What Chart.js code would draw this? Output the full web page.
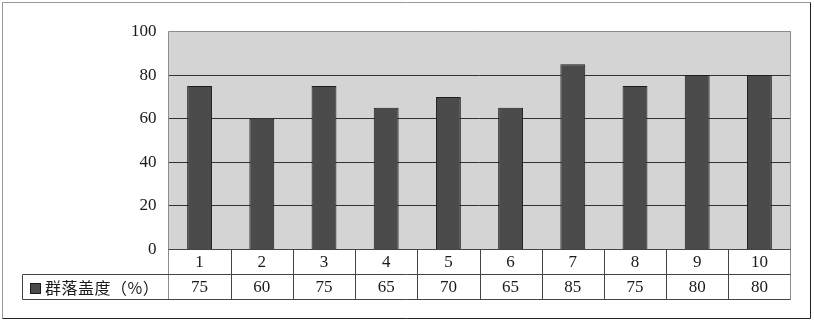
<!DOCTYPE html>
<html>
<head>
<meta charset="utf-8">
<script src="https://cdn.jsdelivr.net/npm/chart.js@4/dist/chart.umd.min.js"></script>
<style>
  html, body { margin: 0; padding: 0; background: #fff; }
  #wrap { width: 814px; height: 323px; }
</style>
</head>
<body>
<div id="wrap"><canvas id="chart" width="814" height="323"></canvas></div>
<script>
// ---- dados ----
const categories = ['1', '2', '3', '4', '5', '6', '7', '8', '9', '10'];
const coverValues = [75, 60, 75, 65, 70, 65, 85, 75, 80, 80];
const seriesLabel = '群落盖度（%）';
const yMin = 0;
const yMax = 100;
const yStep = 20;

const BAR_FILL = '#4b4b4b';
const BAR_EDGE = '#1c1c1c';
const PLOT_BG = '#d4d4d4';
const GRID = '#333333';
const EDGE_GRAY = '#8c8c8c';
const SERIF = '"Liberation Serif", "DejaVu Serif", serif';

// fundo da área de plotagem
const plotBackground = {
  id: 'plotBackground',
  beforeDraw(chart) {
    const { ctx, chartArea: a } = chart;
    ctx.save();
    ctx.fillStyle = PLOT_BG;
    ctx.fillRect(a.left, a.top, a.right - a.left, a.bottom - a.top);
    ctx.restore();
  }
};

// tabela de dados + bordas
const dataTable = {
  id: 'dataTable',
  afterDraw(chart) {
    const { ctx, chartArea: a } = chart;
    const x = chart.scales.x;
    const rowMid = 274.5;
    const tableBottom = 299.5;
    const legendLeft = 22.5;
    const half = (a.right - a.left) / categories.length / 2;

    ctx.save();
    ctx.lineWidth = 1;

    // bordas da área de plotagem
    ctx.strokeStyle = EDGE_GRAY;
    ctx.beginPath();
    ctx.moveTo(a.left, tableBottom);
    ctx.lineTo(a.left, a.top);
    ctx.lineTo(a.right, a.top);
    ctx.lineTo(a.right, tableBottom);
    ctx.stroke();

    // linhas da tabela
    ctx.strokeStyle = '#444';
    ctx.beginPath();
    ctx.moveTo(a.left, a.bottom);
    ctx.lineTo(a.right, a.bottom);
    ctx.moveTo(legendLeft, rowMid);
    ctx.lineTo(a.right, rowMid);
    ctx.moveTo(legendLeft, tableBottom);
    ctx.lineTo(a.right, tableBottom);
    ctx.moveTo(legendLeft, rowMid);
    ctx.lineTo(legendLeft, tableBottom);
    categories.forEach((c, i) => {
      if (i === 0) return;
      const bx = Math.round(x.getPixelForValue(i) - half) + 0.5;
      ctx.moveTo(bx, a.bottom);
      ctx.lineTo(bx, tableBottom);
    });
    ctx.stroke();

    // textos
    ctx.fillStyle = '#1a1a1a';
    ctx.font = '17px ' + SERIF;
    ctx.textAlign = 'center';
    ctx.textBaseline = 'middle';
    categories.forEach((c, i) => {
      const cx = x.getPixelForValue(i);
      ctx.fillText(c, cx, (a.bottom + rowMid) / 2 + 1);
      ctx.fillText(String(coverValues[i]), cx, (rowMid + tableBottom) / 2 + 1);
    });

    // legenda
    ctx.fillStyle = BAR_FILL;
    ctx.fillRect(30, 283, 10, 10);
    ctx.strokeStyle = BAR_EDGE;
    ctx.strokeRect(30.5, 283.5, 10, 10);
    ctx.fillStyle = '#1a1a1a';
    ctx.font = '16px "Noto Sans CJK SC", sans-serif';
    ctx.letterSpacing = '0.5px';
    ctx.textAlign = 'left';
    ctx.fillText(seriesLabel, 45, (rowMid + tableBottom) / 2 + 1);
    ctx.letterSpacing = '0px';

    // moldura externa
    ctx.strokeStyle = '#999';
    ctx.beginPath();
    ctx.moveTo(2.5, 318.5);
    ctx.lineTo(2.5, 2.5);
    ctx.lineTo(810.5, 2.5);
    ctx.stroke();
    ctx.strokeStyle = '#222';
    ctx.beginPath();
    ctx.moveTo(810.5, 2.5);
    ctx.lineTo(810.5, 318.5);
    ctx.lineTo(2.5, 318.5);
    ctx.stroke();
    ctx.restore();
  }
};

new Chart(document.getElementById('chart'), {
  type: 'bar',
  data: {
    labels: categories,
    datasets: [{
      label: seriesLabel,
      data: coverValues,
      backgroundColor: BAR_FILL,
      borderColor: BAR_EDGE,
      borderWidth: 1,
      categoryPercentage: 1,
      barPercentage: 0.4
    }]
  },
  options: {
    responsive: false,
    animation: false,
    layout: { padding: { left: 0, top: 31.5, right: 23.5, bottom: 73.5 } },
    plugins: { legend: { display: false }, tooltip: { enabled: false } },
    scales: {
      x: { display: false },
      y: {
        min: yMin,
        max: yMax,
        afterFit(scale) { scale.width = 168.5; },
        ticks: {
          stepSize: yStep,
          padding: 12,
          color: '#1a1a1a',
          font: { family: SERIF, size: 17 }
        },
        grid: {
          drawTicks: false,
          color: (c) => (c.tick && c.tick.value === yMax ? EDGE_GRAY : GRID),
          lineWidth: 1
        },
        border: { display: false }
      }
    }
  },
  plugins: [plotBackground, dataTable]
});
</script>
</body>
</html>
